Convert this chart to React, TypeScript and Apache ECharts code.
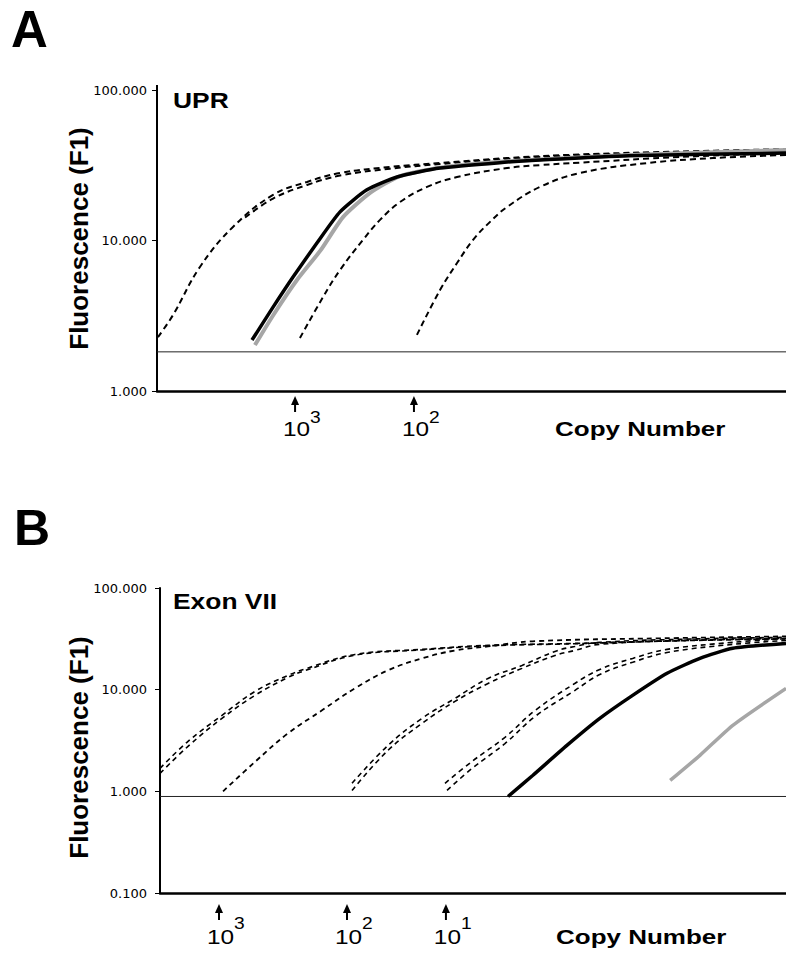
import React, { useEffect, useRef } from "react";
import * as echarts from "echarts";

// ---------- shared ----------
const cycleMin = 0;
const cycleMax = 40;

// ---------- Panel A : UPR ----------
const uprTitle = "UPR";
const uprYMin = 1;
const uprYMax = 100;
const uprThreshold = 1.82;
const uprEarly: number[][] = [
  [0.06, 2.28], [1.02, 3.2], [2.73, 6.67], [4.83, 12.3], [7.38, 20.1],
  [9.54, 24.5], [11.64, 28.1], [14.82, 30.8], [18.0, 32.7], [22.26, 35.3],
  [26.9, 37.3], [33.26, 39.0], [40, 40.5],
];
const uprEarlyDup: number[][] = [
  [5.6, 14.2], [7.38, 19.0], [9.54, 23.4], [11.64, 27.0], [14.82, 30.0],
  [18.0, 32.2], [22.26, 34.8], [26.9, 36.8], [33.26, 38.6], [40, 40.0],
];
const uprSample: number[][] = [
  [6.04, 2.18], [7.38, 3.61], [8.65, 5.72], [10.17, 9.62], [11.64, 15.5],
  [13.35, 21.7], [15.26, 26.4], [18.0, 30.3], [22.26, 33.2], [24.36, 34.3],
  [30.0, 36.6], [40, 38.1],
];
const uprSampleGrey: number[][] = [
  [6.23, 2.02], [7.4, 3.2], [8.9, 5.46], [10.4, 8.6], [11.83, 14.3], [13.55, 20.7],
  [15.45, 26.8], [18.0, 30.5], [22.26, 33.6], [30.0, 37.0], [40, 39.9],
];
const uprMid: number[][] = [
  [9.09, 2.25], [10.56, 4.21], [11.64, 6.37], [13.1, 10.1], [14.18, 13.7],
  [15.45, 18.0], [17.17, 22.7], [19.08, 26.4], [22.26, 30.3], [24.36, 31.7],
  [26.9, 32.9], [33.26, 35.9], [40, 38.1],
];
const uprLate: number[][] = [
  [16.53, 2.36], [18.0, 4.69], [19.08, 7.08], [20.1, 10.1], [21.18, 13.3],
  [22.26, 16.7], [24.36, 22.7], [26.9, 28.1], [31.16, 32.7], [35.36, 35.3], [40, 37.0],
];
const uprMarkers: number[][] = [
  [8.78, 3],
  [16.34, 2],
];

// ---------- Panel B : Exon VII ----------
const exonTitle = "Exon VII";
const exonYMin = 0.1;
const exonYMax = 100;
const exonThreshold = 0.89;
const exon1a: number[][] = [
  [0, 1.68], [1.79, 3.1], [3.96, 5.59], [6.07, 9.62], [8.18, 13.8], [9.27, 16.0],
  [12.46, 22.2], [16.74, 24.9], [20.96, 27.3], [26.5, 28.5], [33.0, 30.4], [40, 31.9],
];
const exon1b: number[][] = [
  [0, 1.5], [1.79, 2.77], [3.96, 5.22], [6.07, 8.79], [8.18, 13.2], [9.27, 15.4],
  [12.46, 21.8], [16.74, 24.6], [20.96, 27.0], [26.5, 28.3], [33.0, 30.2], [40, 31.6],
];
const exon2: number[][] = [
  [4.03, 1.0], [6.07, 1.95], [8.18, 3.72], [10.35, 6.26], [12.46, 10.3],
  [14.57, 15.5], [16.74, 20.3], [18.85, 24.3], [20.96, 26.6], [23.8, 29.9],
  [32.0, 32.0], [40, 33.4],
];
const exon3a: number[][] = [
  [12.27, 1.2], [14.57, 2.83], [16.74, 5.22], [18.85, 8.21], [20.96, 12.9],
  [23.13, 17.3], [25.24, 23.8], [26.5, 26.6], [28.1, 29.2], [34.0, 31.5], [40, 32.7],
];
const exon3b: number[][] = [
  [12.27, 1.02], [14.57, 2.53], [16.74, 4.66], [18.85, 7.67], [20.96, 11.5],
  [23.13, 16.2], [25.24, 21.7], [26.5, 24.3], [28.1, 27.9], [34.0, 30.6], [40, 31.9],
];
const exon4a: number[][] = [
  [18.21, 1.2], [19.94, 1.97], [22.04, 3.4], [24.0, 6.3], [26.5, 11.5],
  [28.1, 15.8], [30.2, 20.3], [32.4, 24.9], [36.6, 29.2], [40, 31.9],
];
const exon4b: number[][] = [
  [18.34, 1.02], [19.94, 1.68], [22.04, 2.95], [24.0, 5.5], [26.5, 9.8],
  [28.1, 14.1], [30.2, 18.6], [32.4, 23.2], [36.6, 27.9], [40, 30.5],
];
const exonSample: number[][] = [
  [22.24, 0.89], [23.83, 1.44], [26.0, 2.83], [28.1, 5.22], [30.2, 8.79],
  [32.4, 14.5], [34.5, 20.3], [36.6, 25.5], [40, 28.5],
];
const exonSampleGrey: number[][] = [
  [32.6, 1.28], [34.5, 2.26], [36.6, 4.46], [40, 10.3],
];
const exonMarkers: number[][] = [
  [3.77, 3],
  [11.95, 2],
  [18.27, 1],
];

const yAxisTitle = "Fluorescence (F1)";
const xAxisTitle = "Copy Number";

const SANS = '"Liberation Sans", Arial, Helvetica, sans-serif';

function dashed(data: number[][], gi: number, width = 2, dash = [6, 4]) {
  return {
    type: "line",
    xAxisIndex: gi,
    yAxisIndex: gi,
    data,
    symbol: "none",
    smooth: 0.4,
    silent: true,
    lineStyle: { color: "#000", width, type: dash },
  };
}

function solid(data: number[][], gi: number, color: string, width: number) {
  return {
    type: "line",
    xAxisIndex: gi,
    yAxisIndex: gi,
    data,
    symbol: "none",
    smooth: 0.2,
    silent: true,
    lineStyle: { color, width, type: "solid" },
  };
}

function threshold(value: number, gi: number) {
  return {
    type: "line",
    xAxisIndex: gi,
    yAxisIndex: gi,
    data: [
      [cycleMin, value],
      [cycleMax, value],
    ],
    symbol: "none",
    silent: true,
    lineStyle: { color: "#222", width: 1 },
  };
}

function markers(
  data: number[][],
  gi: number,
  yMin: number,
  arrowOff: number,
  labelOff: number,
  supOff: number
) {
  return {
    type: "custom",
    xAxisIndex: gi,
    yAxisIndex: gi,
    clip: false,
    silent: true,
    data: data.map(([c, e]) => [c, yMin, e]),
    renderItem: (_params: any, api: any) => {
      const p = api.coord([api.value(0), api.value(1)]);
      const x = p[0];
      const y0 = p[1];
      const e = api.value(2);
      return {
        type: "group",
        children: [
          {
            type: "polygon",
            shape: {
              points: [
                [x, y0 + arrowOff],
                [x - 4, y0 + arrowOff + 9],
                [x + 4, y0 + arrowOff + 9],
              ],
            },
            style: { fill: "#000" },
          },
          {
            type: "line",
            shape: { x1: x, y1: y0 + arrowOff + 7, x2: x, y2: y0 + arrowOff + 16 },
            style: { stroke: "#000", lineWidth: 2 },
          },
          {
            type: "text",
            x: x + 1.5,
            y: y0 + labelOff,
            scaleX: 1.22,
            style: {
              text: "10",
              font: `20px ${SANS}`,
              fill: "#000",
              textAlign: "center",
              textVerticalAlign: "middle",
            },
          },
          {
            type: "text",
            x: x + 15,
            y: y0 + supOff,
            scaleX: 1.2,
            style: {
              text: String(e),
              font: `16px ${SANS}`,
              fill: "#000",
              textAlign: "left",
              textVerticalAlign: "middle",
            },
          },
        ],
      };
    },
  };
}

function yAxis(gi: number, min: number, max: number, margin: number) {
  return {
    type: "log",
    logBase: 10,
    gridIndex: gi,
    min,
    max,
    axisLine: { show: true, lineStyle: { color: "#000", width: 2 } },
    axisTick: { show: true, length: 5, lineStyle: { color: "#000", width: 1 } },
    axisLabel: {
      formatter: (v: number) => Number(v).toFixed(3),
      fontFamily: '"DejaVu Sans", sans-serif',
      fontSize: 13,
      color: "#000",
      margin,
    },
    splitLine: { show: false },
  };
}

function xAxis(gi: number) {
  return {
    type: "value",
    gridIndex: gi,
    min: cycleMin,
    max: cycleMax,
    axisLine: { show: true, onZero: false, lineStyle: { color: "#000", width: 2.5 } },
    axisTick: { show: false },
    axisLabel: { show: false },
    splitLine: { show: false },
  };
}

function txt(
  text: string,
  x: number,
  y: number,
  size: number,
  opts: { bold?: boolean; scaleX?: number; rotation?: number; align?: string } = {}
) {
  return {
    type: "text",
    x,
    y,
    scaleX: opts.scaleX ?? 1,
    rotation: opts.rotation ?? 0,
    silent: true,
    style: {
      text,
      font: `${opts.bold ? "bold " : ""}${size}px ${SANS}`,
      fill: "#000",
      textAlign: opts.align ?? "left",
      textVerticalAlign: "middle",
    },
  };
}

export default function App() {
  const ref = useRef<HTMLDivElement>(null);

  useEffect(() => {
    if (!ref.current) return;
    const chart = echarts.init(ref.current, undefined, { renderer: "svg" });
    chart.setOption({
      animation: false,
      backgroundColor: "#fff",
      grid: [
        { left: 157, top: 90, right: 0, height: 301 },
        { left: 160, top: 588, right: 0, height: 305 },
      ],
      xAxis: [xAxis(0), xAxis(1)],
      yAxis: [yAxis(0, uprYMin, uprYMax, 10), yAxis(1, exonYMin, exonYMax, 13)],
      series: [
        // Panel A
        threshold(uprThreshold, 0),
        dashed(uprEarly, 0),
        dashed(uprEarlyDup, 0),
        dashed(uprMid, 0),
        dashed(uprLate, 0),
        solid(uprSampleGrey, 0, "#a6a6a6", 4),
        solid(uprSample, 0, "#000", 3.5),
        markers(uprMarkers, 0, uprYMin, 5, 38, 26.5),
        // Panel B
        threshold(exonThreshold, 1),
        dashed(exon1a, 1, 1.6, [5, 4]),
        dashed(exon1b, 1, 1.6, [5, 4]),
        dashed(exon2, 1, 1.8, [5, 4]),
        dashed(exon3a, 1, 1.6, [5, 4]),
        dashed(exon3b, 1, 1.6, [5, 4]),
        dashed(exon4a, 1, 1.6, [5, 4]),
        dashed(exon4b, 1, 1.6, [5, 4]),
        solid(exonSampleGrey, 1, "#a6a6a6", 3.5),
        solid(exonSample, 1, "#000", 3.5),
        markers(exonMarkers, 1, exonYMin, 11, 44.5, 30.5),
      ],
      graphic: [
        { type: "line", silent: true, shape: { x1: 157, y1: 85, x2: 157, y2: 91 }, style: { stroke: "#000", lineWidth: 2 } },
        txt("A", 11, 29, 51, { bold: true }),
        txt("B", 14, 528, 50, { bold: true }),
        txt(uprTitle, 173, 100, 22, { bold: true, scaleX: 1.2 }),
        txt(exonTitle, 173, 601.5, 22, { bold: true, scaleX: 1.2 }),
        txt(yAxisTitle, 79, 238.5, 26, { bold: true, rotation: Math.PI / 2, align: "center" }),
        txt(yAxisTitle, 79, 747.5, 26, { bold: true, rotation: Math.PI / 2, align: "center" }),
        txt(xAxisTitle, 555, 429.5, 20, { bold: true, scaleX: 1.3 }),
        txt(xAxisTitle, 556, 937, 20, { bold: true, scaleX: 1.3 }),
      ],
    });
    return () => chart.dispose();
  }, []);

  return (
    <div
      ref={ref}
      style={{ position: "absolute", left: 0, top: 0, width: 786, height: 953, background: "#fff" }}
    />
  );
}
